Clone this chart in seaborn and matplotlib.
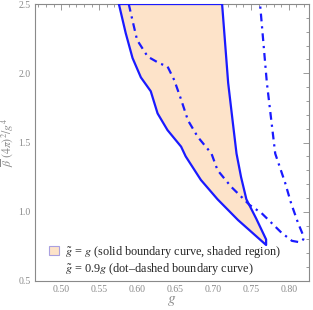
import numpy as np
import pandas as pd
import matplotlib
matplotlib.use("Agg")
import matplotlib.pyplot as plt
import seaborn as sns
from matplotlib.patches import Patch
from matplotlib.ticker import MultipleLocator

# solid boundary (closed region): left branch top->tip, then right branch tip->top
solid_g = [0.576, 0.585, 0.594, 0.605, 0.618, 0.627, 0.640, 0.658, 0.664, 0.684,
           0.706, 0.733, 0.770, 0.770, 0.757, 0.744, 0.737, 0.731, 0.726, 0.720, 0.712]
solid_b = [2.50, 2.29, 2.11, 1.97, 1.87, 1.71, 1.59, 1.47, 1.40, 1.23,
           1.09, 0.94, 0.76, 0.80, 0.95, 1.09, 1.25, 1.42, 1.65, 1.93, 2.50]

# dot-dashed boundary (g~ = 0.9 g)
dd_g = [0.589, 0.594, 0.600, 0.614, 0.630, 0.640, 0.649, 0.658, 0.667, 0.680,
        0.698, 0.706, 0.724, 0.737, 0.748, 0.764, 0.777, 0.790, 0.804, 0.814,
        0.819, 0.818, 0.812, 0.803, 0.795, 0.782, 0.771, 0.762]
dd_b = [2.50, 2.38, 2.24, 2.12, 2.07, 2.05, 1.95, 1.81, 1.66, 1.54,
        1.42, 1.30, 1.18, 1.11, 1.05, 0.99, 0.92, 0.85, 0.79, 0.78,
        0.80, 0.84, 0.92, 1.06, 1.21, 1.42, 1.93, 2.50]

xticks = [0.50, 0.55, 0.60, 0.65, 0.70, 0.75, 0.80]
yticks = [0.5, 1.0, 1.5, 2.0, 2.5]

sns.set_theme(style="white")
plt.rcParams['font.family'] = ['Liberation Serif', 'DejaVu Serif']
plt.rcParams['mathtext.fontset'] = 'stix'

gray = '#8a8a8a'
blue = '#1a1aff'
peach = '#fde3c9'

fig = plt.figure(figsize=(3.13, 3.10), dpi=100)
ax = fig.add_axes([35 / 313, 1 - 281 / 310, 274 / 313, 277 / 310])

solid = pd.DataFrame({'g': solid_g, 'b': solid_b})
dd = pd.DataFrame({'g': dd_g, 'b': dd_b})

ax.fill(solid['g'], solid['b'], color=peach, lw=0, zorder=1)
sns.lineplot(data=pd.concat([solid, solid.iloc[:1]]), x='g', y='b', sort=False,
             estimator=None, color=blue, lw=1.6, ax=ax, zorder=3)
sns.lineplot(data=dd, x='g', y='b', sort=False, estimator=None, color=blue,
             lw=1.6, ax=ax, zorder=3, dashes=False)
ax.lines[-1].set_dashes([3.5, 2.2, 1, 2.2])

ax.set_xlim(0.4655, 0.8265)
ax.set_ylim(0.5, 2.5)
ax.set_xticks(xticks)
ax.set_xticklabels([f"{t:.2f}" for t in xticks])
ax.set_yticks(yticks)
ax.set_yticklabels([f"{t:.1f}" for t in yticks])
ax.xaxis.set_minor_locator(MultipleLocator(0.01))
ax.yaxis.set_minor_locator(MultipleLocator(0.1))
ax.tick_params(which='both', direction='in', top=True, right=True, color=gray,
               labelcolor=gray, labelsize=7, width=0.6, pad=3)
ax.tick_params(which='major', length=4)
ax.tick_params(which='minor', length=2)
for s in ax.spines.values():
    s.set_color(gray)
    s.set_linewidth(0.8)

ax.set_xlabel(r'$g$', fontsize=11, color=gray, labelpad=0)
ax.set_ylabel(r'$\overline{\beta}\ (4\pi)^2/g^4$', fontsize=8.5, color=gray, labelpad=2)

handles = [Patch(facecolor=peach, edgecolor='#a9a0e0', lw=0.8),
           Patch(facecolor='white', edgecolor='none')]
labels = [r'$\tilde{g}$ = $g$ (solid boundary curve, shaded region)',
          r'$\tilde{g}$ = 0.9$g$ (dot–dashed boundary curve)']
ax.legend(handles, labels, loc='lower left', bbox_to_anchor=(0.02, -0.015),
          frameon=False, fontsize=8.8, handlelength=0.8, handleheight=0.8,
          handletextpad=0.5, labelspacing=0.05, borderpad=0.2)

fig.savefig('out.png', dpi=100)
